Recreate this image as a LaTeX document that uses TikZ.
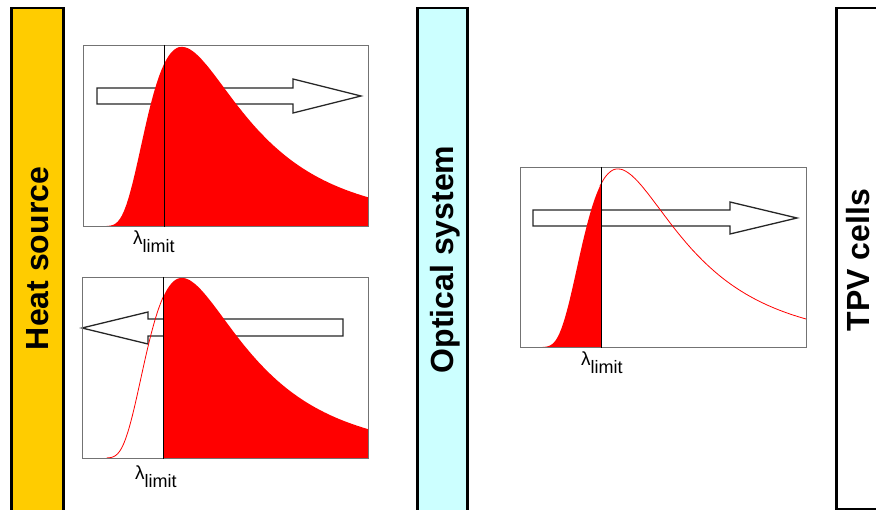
\documentclass[tikz,border=0pt]{standalone}
\usepackage{fontspec}
\setmainfont{Liberation Sans}
\usepackage{tikz}

\definecolor{heatyellow}{HTML}{FFCC00}
\definecolor{opticcyan}{HTML}{CCFFFF}

\begin{document}
\begin{tikzpicture}[
        x=1pt, y=-1pt,
        declare function={pl(\u)=exp(4.965*(1-1/\u)-5*ln(\u))*0.993/(1-exp(-4.965/\u));},
        barbox/.style={draw, line width=2.5pt, inner sep=0pt, anchor=north west},
        barlabel/.style={rotate=90, anchor=base, inner sep=0pt, font=\fontsize{32}{32}\selectfont\bfseries},
        plotframe/.style={draw=black!55, line width=1pt, inner sep=0pt, anchor=north west},
        beam/.style={draw=black!85, fill=white, line width=1.3pt, line join=miter},
        cutline/.style={black, line width=0.9pt},
        spectrum/.style={red, line width=0.8pt},
        lamlabel/.style={anchor=base west, inner sep=0pt, font=\fontsize{19}{19}\selectfont}
    ]
        \useasboundingbox (0,0) rectangle (876,510);

        % the three bars
        \node[barbox, fill=heatyellow, minimum width=52, minimum height=530] (heat) at (10,7) {};
        \node[barbox, fill=opticcyan, minimum width=50, minimum height=530] (optic) at (416,7) {};
        \node[barbox, fill=white, minimum width=60, minimum height=501] (tpv) at (835,7) {};
        \node[barlabel] (heattxt) at (48,258.5) {Heat source};
        \node[barlabel] (optictxt) at (453,259.5) {Optical system};
        \node[barlabel] (tpvtxt) at (869.5,260) {TPV cells};

        % upper spectrum: everything goes on
        \draw[beam] (97,88) -- (293,88) -- (293,79) -- (361,96) -- (293,113) -- (293,104) -- (97,104) -- cycle;
        \fill[red] (106.6,226) -- plot[domain=0.25:2.8507, samples=120, variable=\u] ({81.5+100.5*\u},{226-179*pl(\u)}) -- (368,226) -- cycle;
        \node[plotframe, minimum width=285, minimum height=181] (specA) at (83,45) {};
        \draw[cutline] (specA.north west -| 164,0) -- (specA.south west -| 164,0);
        \node[lamlabel] (limA) at (133,245) {λ\raisebox{-8pt}{\fontsize{18}{18}\selectfont limit}};

        % lower spectrum: short part sent back
        \draw[beam] (343,319) -- (148,319) -- (148,312) -- (82,328) -- (148,344) -- (148,336) -- (343,336) -- cycle;
        \fill[red] (163,458) -- plot[domain=0.811:2.8507, samples=100, variable=\u] ({81.5+100.5*\u},{458-180*pl(\u)}) -- (368,458) -- cycle;
        \draw[spectrum] plot[domain=0.25:0.82, samples=60, variable=\u] ({81.5+100.5*\u},{458-180*pl(\u)});
        \node[plotframe, minimum width=286, minimum height=181] (specB) at (82,277) {};
        \draw[cutline] (specB.north west -| 163,0) -- (specB.south west -| 163,0);
        \node[lamlabel] (limB) at (135,480) {λ\raisebox{-8pt}{\fontsize{18}{18}\selectfont limit}};

        % spectrum after the optical system
        \draw[beam] (533,210) -- (730,210) -- (730,202) -- (797,218) -- (730,234) -- (730,226) -- (533,226) -- cycle;
        \fill[red] (542.6,347) -- plot[domain=0.25:0.831, samples=60, variable=\u] ({517.5+100.5*\u},{347-178*pl(\u)}) -- (601,347) -- cycle;
        \draw[spectrum] plot[domain=0.82:2.8706, samples=100, variable=\u] ({517.5+100.5*\u},{347-178*pl(\u)});
        \node[plotframe, minimum width=286, minimum height=180] (specC) at (520,167) {};
        \draw[cutline] (specC.north west -| 601,0) -- (specC.south west -| 601,0);
        \node[lamlabel] (limC) at (581,366) {λ\raisebox{-8pt}{\fontsize{18}{18}\selectfont limit}};
    \end{tikzpicture}
\end{document}
